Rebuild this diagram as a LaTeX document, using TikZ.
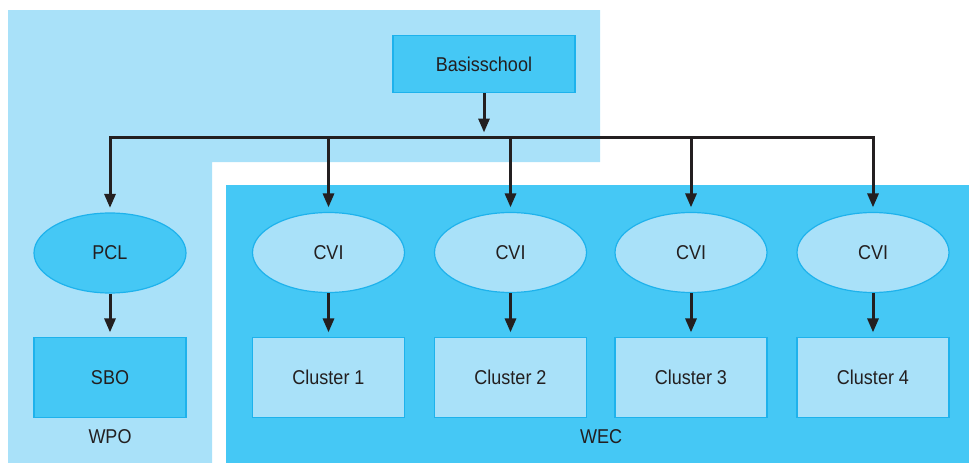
\documentclass[tikz,border=0pt]{standalone}
\usepackage{fontspec}
\setmainfont{Liberation Sans}[FakeStretch=0.9]
\usetikzlibrary{shapes.geometric,arrows.meta}
\definecolor{lightbg}{HTML}{A9E1F9}
\definecolor{darkbg}{HTML}{45C8F5}
\definecolor{edgeblue}{HTML}{1EB2EC}
\definecolor{ink}{HTML}{231F20}
\tikzset{
  lbl/.style={text=ink, font=\fontsize{20}{22}\selectfont, inner sep=0pt},
  darkbox/.style={lbl, rectangle, draw=edgeblue, line width=1.2pt, fill=darkbg, minimum width=152pt, minimum height=80pt},
  lightbox/.style={darkbox, fill=lightbg},
  darkoval/.style={lbl, ellipse, draw=edgeblue, line width=1.2pt, fill=darkbg, minimum width=152pt, minimum height=80pt},
  lightoval/.style={darkoval, fill=lightbg},
  wire/.style={draw=ink, line width=3pt, -{Triangle[length=14pt,width=11pt]}},
}
\begin{document}
\begin{tikzpicture}[x=1pt,y=-1pt]
\useasboundingbox (0,0) rectangle (969,463);
% regions
\fill[lightbg] (8,10) -- (600,10) -- (600,162) -- (212,162) -- (212,463) -- (8,463) -- cycle;
\fill[darkbg] (226,185) rectangle (969,463);
% nodes
\node[darkbox, minimum width=182pt, minimum height=57pt] (bs) at (484,64) {Basisschool};
\node[darkoval] (pcl) at (110,253) {PCL};
\node[lightoval] (cvi1) at (328.5,252.5) {CVI};
\node[lightoval] (cvi2) at (510.5,252.5) {CVI};
\node[lightoval] (cvi3) at (691,252.5) {CVI};
\node[lightoval] (cvi4) at (873,252.5) {CVI};
\node[darkbox] (sbo) at (110,377.5) {SBO};
\node[lightbox] (c1) at (328.5,377.5) {Cluster 1};
\node[lightbox] (c2) at (510.5,377.5) {Cluster 2};
\node[lightbox] (c3) at (691,377.5) {Cluster 3};
\node[lightbox] (c4) at (873,377.5) {Cluster 4};
\node[lbl] (wpo) at (110,437) {WPO};
\node[lbl] (wec) at (601,437) {WEC};
% connectors
\coordinate (bus) at (484,137.5);
\draw[wire, shorten >=5pt] (bs.south) -- (bus);
\draw[wire, shorten >=4.5pt] (bus) -| (pcl.north);
\draw[wire, shorten >=4.5pt] (bus) -| (cvi4.north);
\foreach \n in {cvi1,cvi2,cvi3}
  \draw[wire, shorten >=4.5pt] (\n.north |- bus) -- (\n.north);
\draw[wire, shorten >=4.5pt] (pcl.south) -- (sbo.north);
\draw[wire, shorten >=4.5pt] (cvi1.south) -- (c1.north);
\draw[wire, shorten >=4.5pt] (cvi2.south) -- (c2.north);
\draw[wire, shorten >=4.5pt] (cvi3.south) -- (c3.north);
\draw[wire, shorten >=4.5pt] (cvi4.south) -- (c4.north);
\end{tikzpicture}
\end{document}
